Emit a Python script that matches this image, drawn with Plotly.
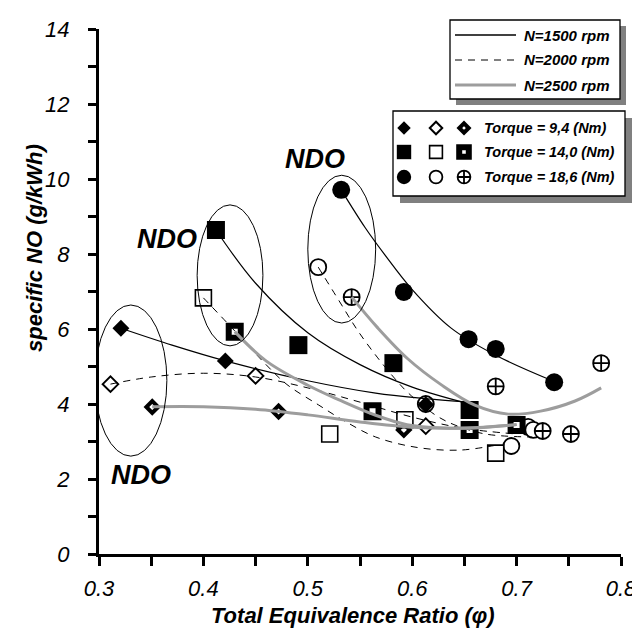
import plotly.graph_objects as go

# ---------------- data ----------------
# markers: diamonds = 9.4 Nm, squares = 14.0 Nm, circles = 18.6 Nm
d1500_94_x = [0.321, 0.421, 0.613]
d1500_94_y = [6.02, 5.15, 3.98]
d2000_94_x = [0.311, 0.450, 0.613]
d2000_94_y = [4.53, 4.75, 3.41]
d2500_94_x = [0.351, 0.472, 0.592]
d2500_94_y = [3.92, 3.80, 3.31]

s1500_14_x = [0.412, 0.491, 0.582, 0.655]
s1500_14_y = [8.64, 5.57, 5.09, 3.84]
s2000_14_x = [0.400, 0.521, 0.593, 0.680]
s2000_14_y = [6.83, 3.20, 3.58, 2.69]
s2500_14_x = [0.430, 0.562, 0.655, 0.700]
s2500_14_y = [5.93, 3.81, 3.31, 3.44]

c1500_186_x = [0.532, 0.592, 0.654, 0.680, 0.736]
c1500_186_y = [9.71, 6.99, 5.73, 5.47, 4.58]
c2000_186_x = [0.510, 0.613, 0.695, 0.711, 0.716]
c2000_186_y = [7.65, 4.00, 2.88, 3.39, 3.31]
c2500_186_x = [0.542, 0.680, 0.725, 0.752, 0.781]
c2500_186_y = [6.85, 4.47, 3.28, 3.20, 5.09]

# trend curves
t1500_94_x = [0.321, 0.37, 0.421, 0.50, 0.565, 0.61, 0.655]
t1500_94_y = [6.02, 5.57, 5.15, 4.62, 4.29, 4.15, 4.05]
t1500_14_x = [0.412, 0.45, 0.50, 0.55, 0.60, 0.655]
t1500_14_y = [8.64, 7.22, 5.9, 5.05, 4.45, 4.0]
t1500_186_x = [0.532, 0.555, 0.574, 0.60, 0.637, 0.68, 0.736]
t1500_186_y = [9.71, 8.7, 7.97, 7.05, 6.03, 5.3, 4.6]

t2000_94_x = [0.311, 0.35, 0.40, 0.45, 0.50, 0.55, 0.60, 0.65, 0.70]
t2000_94_y = [4.53, 4.72, 4.82, 4.72, 4.43, 4.05, 3.65, 3.35, 3.2]
t2000_14_x = [0.40, 0.43, 0.46, 0.48, 0.51, 0.535, 0.565, 0.605, 0.645, 0.68]
t2000_14_y = [6.83, 5.95, 5.05, 4.52, 3.98, 3.55, 3.12, 2.84, 2.77, 2.9]
t2000_186_x = [0.51, 0.53, 0.548, 0.567, 0.583, 0.596, 0.622, 0.64, 0.67, 0.715]
t2000_186_y = [7.65, 6.75, 5.95, 5.23, 4.69, 4.3, 3.71, 3.45, 3.2, 3.12]

t2500_94_x = [0.351, 0.40, 0.45, 0.50, 0.55, 0.60, 0.65, 0.70]
t2500_94_y = [3.93, 3.93, 3.86, 3.71, 3.52, 3.38, 3.36, 3.45]
t2500_14_x = [0.43, 0.46, 0.50, 0.53, 0.565, 0.595, 0.63, 0.665, 0.70]
t2500_14_y = [5.93, 5.15, 4.5, 4.11, 3.7, 3.45, 3.36, 3.37, 3.45]
t2500_186_x = [0.542, 0.567, 0.596, 0.628, 0.66, 0.692, 0.723, 0.756, 0.781]
t2500_186_y = [6.85, 6.03, 5.2, 4.51, 3.97, 3.73, 3.81, 4.08, 4.43]

# NDO regions (x0, x1, y0, y1) and labels
ndo_regions = [(0.296, 0.365, 2.61, 6.64), (0.394, 0.457, 5.55, 9.31), (0.50, 0.565, 6.16, 10.1)]
ndo_labels_x = [0.340, 0.365, 0.507]
ndo_labels_y = [2.1, 8.4, 10.53]

speed_labels = ["N=1500 rpm", "N=2000 rpm", "N=2500 rpm"]
torque_labels = ["Torque = 9,4 (Nm)", "Torque = 14,0 (Nm)", "Torque = 18,6 (Nm)"]
x_ticks = [0.3, 0.4, 0.5, 0.6, 0.7, 0.8]
y_ticks = [0, 2, 4, 6, 8, 10, 12, 14]

# ---------------- styling ----------------
FONT = "Liberation Sans, Arial, sans-serif"
GREY = "#9d9d9d"
W, H = 640, 630
L, R, T, B = 91, 613, 21, 546  # plot area in pixels


def px(x):
    return (x - L) / (R - L)


def py(y):
    return (B - y) / (B - T)


line_styles = {
    1500: dict(color="black", width=1.2, dash="solid"),
    2000: dict(color="black", width=1.0, dash="7px,6px"),
    2500: dict(color=GREY, width=3, dash="solid"),
}

marker_styles = {
    ("d", 1500): dict(symbol="diamond", size=13, color="black", line=dict(width=0)),
    ("d", 2000): dict(symbol="diamond", size=12, color="white", line=dict(width=2, color="black")),
    ("d", 2500): dict(symbol="diamond", size=9, color="white", line=dict(width=4, color="black")),
    ("s", 1500): dict(symbol="square", size=18, color="black", line=dict(width=0)),
    ("s", 2000): dict(symbol="square", size=16, color="white", line=dict(width=1.6, color="black")),
    ("s", 2500): dict(symbol="square", size=12, color="white", line=dict(width=6, color="black")),
    ("c", 1500): dict(symbol="circle", size=18, color="black", line=dict(width=0)),
    ("c", 2000): dict(symbol="circle", size=16, color="white", line=dict(width=1.8, color="black")),
    ("c", 2500): dict(symbol="circle-cross", size=16, color="white", line=dict(width=1.8, color="black")),
}

fig = go.Figure()

marker_series = [
    ("c", 2000, c2000_186_x, c2000_186_y),
    ("d", 1500, d1500_94_x, d1500_94_y),
    ("d", 2000, d2000_94_x, d2000_94_y),
    ("d", 2500, d2500_94_x, d2500_94_y),
    ("s", 1500, s1500_14_x, s1500_14_y),
    ("s", 2000, s2000_14_x, s2000_14_y),
    ("s", 2500, s2500_14_x, s2500_14_y),
    ("c", 1500, c1500_186_x, c1500_186_y),
    ("c", 2500, c2500_186_x, c2500_186_y),
]
for kind, spd, xs, ys in marker_series:
    fig.add_trace(go.Scatter(x=xs, y=ys, mode="markers", marker=marker_styles[(kind, spd)],
                             showlegend=False, hoverinfo="skip", cliponaxis=False))

curves = [
    (1500, t1500_94_x, t1500_94_y), (1500, t1500_14_x, t1500_14_y), (1500, t1500_186_x, t1500_186_y),
    (2000, t2000_94_x, t2000_94_y), (2000, t2000_14_x, t2000_14_y), (2000, t2000_186_x, t2000_186_y),
    (2500, t2500_94_x, t2500_94_y), (2500, t2500_14_x, t2500_14_y), (2500, t2500_186_x, t2500_186_y),
]
for spd, xs, ys in curves:
    fig.add_trace(go.Scatter(x=xs, y=ys, mode="lines", line=dict(**line_styles[spd], shape="spline", smoothing=1.0),
                             showlegend=False, hoverinfo="skip"))

shapes = []
for (x0, x1, y0, y1) in ndo_regions:
    shapes.append(dict(type="circle", xref="x", yref="y", x0=x0, x1=x1, y0=y0, y1=y1,
                       line=dict(color="black", width=1)))

annotations = []
for lx, ly in zip(ndo_labels_x, ndo_labels_y):
    annotations.append(dict(x=lx, y=ly, xref="x", yref="y", text="NDO", showarrow=False,
                            font=dict(family=FONT, size=27, color="black", style="italic", weight="bold")))


# ----- legend boxes (drawn below the traces so legend markers show) -----
def box(x0, y0, x1, y1, off):
    shapes.append(dict(type="rect", xref="paper", yref="paper", x0=px(x0 + off), x1=px(x1 + off),
                       y0=py(y0 + off), y1=py(y1 + off), line=dict(width=0), fillcolor="#808080",
                       layer="below"))
    shapes.append(dict(type="rect", xref="paper", yref="paper", x0=px(x0), x1=px(x1),
                       y0=py(y0), y1=py(y1), line=dict(width=1.3, color="black"), fillcolor="white",
                       layer="below"))


box(442, 12, 612, 91, 6)
leg1_rows = [27, 52, 77]
for lbl, yy, spd in zip(speed_labels, leg1_rows, [1500, 2000, 2500]):
    st = line_styles[spd]
    shapes.append(dict(type="line", xref="paper", yref="paper", x0=px(447), x1=px(508), y0=py(yy), y1=py(yy),
                       line=dict(color=st["color"], width=st["width"] + (0.2 if spd == 1500 else 0),
                                 dash=st["dash"])))
    annotations.append(dict(x=px(514), y=py(yy), xref="paper", yref="paper", text=lbl, showarrow=False,
                            xanchor="left", yanchor="middle",
                            font=dict(family=FONT, size=15, color="black", style="italic", weight="bold")))

box(385, 103, 617, 188, 7)
leg2_rows = [120, 144, 169]
leg2_cols = [396, 428, 456]
kinds = ["d", "s", "c"]
for lbl, yy, kind in zip(torque_labels, leg2_rows, kinds):
    for xx, spd in zip(leg2_cols, [1500, 2000, 2500]):
        ms = dict(marker_styles[(kind, spd)])
        ms["size"] = ms["size"] * 0.8
        fig.add_trace(go.Scatter(x=[xx], y=[yy], xaxis="x2", yaxis="y2", mode="markers", marker=ms,
                                 showlegend=False, hoverinfo="skip", cliponaxis=False))
    annotations.append(dict(x=px(474), y=py(yy), xref="paper", yref="paper", text=lbl, showarrow=False,
                            xanchor="left", yanchor="middle",
                            font=dict(family=FONT, size=14.5, color="black", style="italic", weight="bold")))

# axis titles
annotations.append(dict(x=px(345), y=py(607), xref="paper", yref="paper", text="Total Equivalence Ratio (φ)",
                        showarrow=False, xanchor="center", yanchor="middle",
                        font=dict(family=FONT, size=22, color="black", style="italic", weight="bold")))
annotations.append(dict(x=px(26), y=py(240), xref="paper", yref="paper", text="specific NO (g/kWh)",
                        showarrow=False, xanchor="center", yanchor="middle", textangle=-90,
                        font=dict(family=FONT, size=22, color="black", style="italic", weight="bold")))

tickfont = dict(family=FONT, size=22, color="black", style="italic")
fig.update_layout(
    width=W, height=H, margin=dict(l=L, r=W - R, t=T, b=H - B, autoexpand=False),
    paper_bgcolor="white", plot_bgcolor="white", showlegend=False,
    xaxis=dict(range=[0.3, 0.8], tickvals=x_ticks, ticktext=[f"{v:.1f}" for v in x_ticks],
               showgrid=False, zeroline=False, showline=True, linecolor="black", linewidth=3,
               ticks="outside", ticklen=9, tickwidth=2.5, tickcolor="black", tickfont=tickfont,
               ticklabelstandoff=4, automargin=False,
               minor=dict(dtick=0.05, tick0=0.3, ticks="outside", ticklen=9, tickwidth=2.5, tickcolor="black")),
    yaxis=dict(range=[0, 14], tickvals=y_ticks, showgrid=False, zeroline=False, showline=True,
               linecolor="black", linewidth=3, ticks="outside", ticklen=8, tickwidth=2.5, tickcolor="black",
               tickfont=tickfont, ticklabelstandoff=14, automargin=False,
               minor=dict(dtick=1, tick0=0, ticks="outside", ticklen=8, tickwidth=2.5, tickcolor="black")),
    xaxis2=dict(range=[L, R], overlaying="x", visible=False, anchor="y2"),
    yaxis2=dict(range=[B, T], overlaying="y", visible=False, anchor="x2"),
    shapes=shapes, annotations=annotations,
)

fig.write_html("out.html")
